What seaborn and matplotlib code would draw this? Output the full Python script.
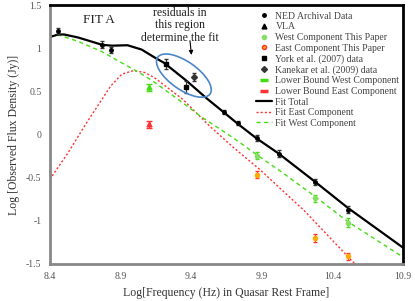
import matplotlib
matplotlib.use("Agg")
import matplotlib.pyplot as plt
import matplotlib.transforms as mtransforms
from matplotlib.patches import Ellipse
from matplotlib.lines import Line2D
import pandas as pd
import seaborn as sns

# fit curves (log frequency, log flux)
fit_freq_total = [8.40, 8.46, 8.50, 8.60, 8.77, 8.84, 8.95, 9.05, 9.14, 9.21, 9.37, 9.51, 9.63, 9.73, 9.86, 10.02, 10.28, 10.51, 10.90]
fit_flux_total = [1.13, 1.16, 1.16, 1.125, 1.04, 1.03, 1.035, 0.985, 0.895, 0.83, 0.62, 0.42, 0.26, 0.125, -0.04, -0.22, -0.55, -0.85, -1.31]

fit_freq_east = [8.40, 8.53, 8.65, 8.75, 8.83, 8.91, 8.99, 9.07, 9.14, 9.34, 9.53, 9.70, 9.89, 10.20, 10.56]
fit_flux_east = [-0.52, -0.21, 0.11, 0.36, 0.56, 0.70, 0.74, 0.72, 0.66, 0.41, 0.10, -0.15, -0.41, -0.88, -1.50]

fit_freq_west = [8.40, 8.47, 8.60, 8.77, 8.90, 9.03, 9.12, 9.34, 9.46, 9.70, 9.87, 10.02, 10.28, 10.51, 10.90]
fit_flux_west = [1.14, 1.15, 1.08, 0.96, 0.84, 0.72, 0.63, 0.37, 0.22, -0.04, -0.24, -0.41, -0.72, -1.01, -1.42]

# data points
ned_freq = [8.46, 8.77, 8.835, 9.63, 9.73, 9.87, 10.02, 10.28, 10.51]
ned_flux = [1.20, 1.04, 0.98, 0.26, 0.135, -0.04, -0.22, -0.55, -0.87]
ned_err = [0.04, 0.04, 0.04, 0.02, 0.02, 0.03, 0.04, 0.04, 0.04]

york_freq = [9.22, 9.365]
york_flux = [0.815, 0.55]
york_err = [0.06, 0.07]

kanekar_freq = [9.42]
kanekar_flux = [0.665]
kanekar_err = [0.05]

vla_freq = [9.10, 9.10]
vla_flux = [0.55, 0.12]
vla_err = [0.04, 0.04]

west_freq = [9.87, 10.28, 10.51]
west_flux = [-0.245, -0.74, -1.02]
west_err = [0.04, 0.04, 0.05]

east_freq = [9.87, 10.28, 10.51]
east_flux = [-0.465, -1.20, -1.41]
east_err = [0.04, 0.05, 0.04]

green = "#44dd11"
red = "#ff3333"
orange = "#ffaa00"

sns.set_theme(style="white")
plt.rcParams["font.family"] = ["Liberation Serif", "DejaVu Serif"]

fig = plt.figure(figsize=(4.15, 3.01), dpi=100)
ax = fig.add_axes([0.120, 0.123, 0.851, 0.860])

tot = pd.DataFrame({"f": fit_freq_total, "s": fit_flux_total})
east = pd.DataFrame({"f": fit_freq_east, "s": fit_flux_east})
west = pd.DataFrame({"f": fit_freq_west, "s": fit_flux_west})
sns.lineplot(data=east, x="f", y="s", ax=ax, color=red, lw=1.0, linestyle=(0, (1.5, 1.5)), sort=False)
sns.lineplot(data=west, x="f", y="s", ax=ax, color=green, lw=1.0, linestyle=(0, (3, 2.5)), sort=False)
sns.lineplot(data=tot, x="f", y="s", ax=ax, color="black", lw=1.6, sort=False)

# data with error bars
ax.errorbar(ned_freq, ned_flux, yerr=ned_err, fmt="o", ms=2.5, color="black", ecolor="#333333", elinewidth=0.8, capsize=1.5, zorder=5)
ax.errorbar(york_freq, york_flux, yerr=york_err, fmt="s", ms=3.2, color="black", ecolor="#333333", elinewidth=0.8, capsize=1.5, zorder=5)
ax.errorbar(kanekar_freq, kanekar_flux, yerr=kanekar_err, fmt="D", ms=3, color="#333333", ecolor="#333333", elinewidth=0.8, capsize=1.5, zorder=5)
ax.errorbar(vla_freq[:1], vla_flux[:1], yerr=vla_err[:1], fmt="^", ms=3.5, color=green, ecolor=green, elinewidth=0.8, capsize=2, zorder=5)
ax.errorbar(vla_freq[1:], vla_flux[1:], yerr=vla_err[1:], fmt="^", ms=3.5, color=red, ecolor=red, elinewidth=0.8, capsize=2, zorder=5)
ax.errorbar(west_freq, west_flux, yerr=west_err, fmt="o", ms=3, color="#88dd66", ecolor=green, elinewidth=0.8, capsize=1.5, zorder=5)
ax.errorbar(east_freq, east_flux, yerr=east_err, fmt="o", ms=3, color=orange, ecolor=red, elinewidth=0.8, capsize=1.5, zorder=5)

ax.set_xlim(8.4, 10.9)
ax.set_ylim(-1.5, 1.5)
ax.set_xticks([8.4, 8.9, 9.4, 9.9, 10.4, 10.9])
ax.set_xticklabels(["8.4", "8.9", "9.4", "9.9", "10.4", "10.9"])
ax.set_yticks([-1.5, -1, -0.5, 0, 0.5, 1, 1.5])
ax.set_yticklabels(["-1.5", "-1", "-0.5", "0", "0.5", "1", "1.5"])
ax.tick_params(axis="both", labelsize=7, colors="#555555", length=2, width=0.6, direction="in", pad=6)
ax.set_xlabel("Log[Frequency (Hz) in Quasar Rest Frame]", fontsize=8.5, color="#333333", labelpad=4)
ax.set_ylabel("Log [Observed Flux Density (Jy)]", fontsize=8.5, color="#333333", labelpad=4)

for side in ["left", "bottom"]:
    ax.spines[side].set_color("#888888")
    ax.spines[side].set_linewidth(2)
for side in ["top", "right"]:
    ax.spines[side].set_color("black")
    ax.spines[side].set_linewidth(2)

ax.text(8.747, 1.33, "FIT A", fontsize=9.5, color="#222222", ha="center", va="center")
ax.text(9.32, 1.265, "residuals in\nthis region\ndetermine the fit", fontsize=8.5, color="#222222",
        ha="center", va="center", linespacing=1.05)
ax.annotate("", xy=(9.405, 0.89), xytext=(9.39, 1.12),
            arrowprops=dict(arrowstyle="-|>", color="black", lw=0.8, mutation_scale=6))

# blue ellipse around the residual region
trans = fig.dpi_scale_trans + mtransforms.ScaledTranslation(9.349, 0.683, ax.transData)
ax.add_patch(Ellipse((0, 0), 0.64, 0.28, angle=-35, transform=trans, fill=False,
                     edgecolor="#4a86c8", lw=1.2, zorder=6))

handles = [
    Line2D([], [], marker="o", ms=2.5, color="black", ls="none", label="NED Archival Data"),
    Line2D([], [], marker="^", ms=3.5, color="black", ls="none", label="VLA"),
    Line2D([], [], marker="o", ms=3, color="#88dd66", ls="none", label="West Component This Paper"),
    Line2D([], [], marker="o", ms=3, color=orange, mec=red, ls="none", label="East Component This Paper"),
    Line2D([], [], marker="s", ms=3, color="black", ls="none", label="York et al. (2007) data"),
    Line2D([], [], marker="D", ms=3, color="#333333", ls="none", label="Kanekar et al. (2009) data"),
    Line2D([], [], marker="_", ms=6, mew=2.5, color=green, ls="none", label="Lower Bound West Component"),
    Line2D([], [], marker="_", ms=6, mew=2.5, color=red, ls="none", label="Lower Bound East Component"),
    Line2D([], [], color="black", lw=1.6, label="Fit Total"),
    Line2D([], [], color=red, lw=1.0, ls=(0, (1.5, 1.5)), label="Fit East Component"),
    Line2D([], [], color=green, lw=1.0, ls=(0, (3, 2.5)), label="Fit West Component"),
]
leg = ax.legend(handles=handles, loc="upper left", bbox_to_anchor=(0.584, 0.974), frameon=False,
                fontsize=7, labelspacing=0.16, handlelength=1.6, handletextpad=0.4,
                borderpad=0, borderaxespad=0)
for t in leg.get_texts():
    t.set_color("#444444")

fig.savefig("out.png", dpi=100)
